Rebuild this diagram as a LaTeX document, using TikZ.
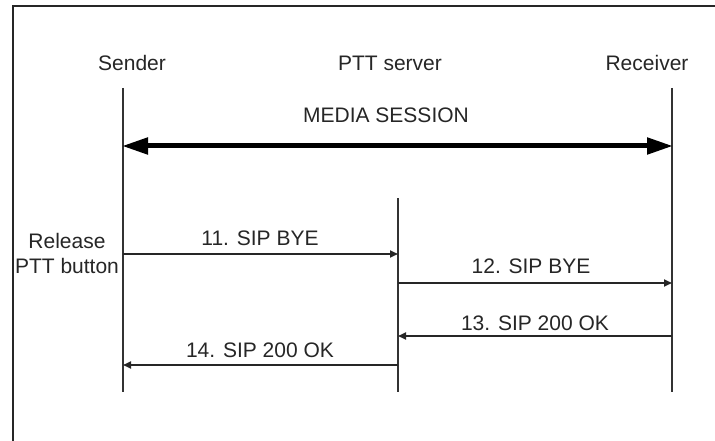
\documentclass[tikz,border=0pt]{standalone}
\usepackage{fontspec}
\setmainfont{Liberation Sans}
\usetikzlibrary{arrows.meta}

\tikzset{
  lbl/.style={inner sep=0pt, font=\fontsize{21}{25}\selectfont, text=black!85},
  life/.style={draw=black!80, line width=1.6pt},
  msg/.style={draw=black!85, line width=1.8pt, -{Triangle[length=8pt,width=7pt]}},
  media/.style={draw=black, line width=5pt, {Triangle[length=26pt,width=16pt]}-{Triangle[length=26pt,width=16pt]}, shorten <=-1pt, shorten >=-1pt}
}

\begin{document}
\begin{tikzpicture}[x=1pt,y=-1pt]
        \useasboundingbox (0,0) rectangle (715,441);
        % frame
        \draw[line width=2pt, black!85] (13,441) -- (13,6) -- (715,6);
        % participants
        \node[lbl] (S) at (132,63) {Sender};
        \node[lbl] (P) at (390,63) {PTT server};
        \node[lbl] (R) at (647,63) {Receiver};
        \coordinate (St) at (123,88);
        \coordinate (Sb) at (123,392);
        \coordinate (Pt) at (398,198);
        \coordinate (Pb) at (398,392);
        \coordinate (Rt) at (672,88);
        \coordinate (Rb) at (672,392);
        \draw[life] (St) -- (Sb);
        \draw[life] (Pt) -- (Pb);
        \draw[life] (Rt) -- (Rb);
        % media session
        \node[lbl] (M) at (386,115) {MEDIA SESSION};
        \coordinate (ms) at (123,146);
        \coordinate (mr) at (672,146);
        \draw[media] (ms) -- (mr);
        % release
        \node[lbl, align=center] (Rel) at (67,253) {Release\\PTT button};
        % messages
        \coordinate (s11) at (123,254);
        \coordinate (p11) at (398,254);
        \coordinate (p12) at (398,283);
        \coordinate (r12) at (672,283);
        \coordinate (r13) at (672,336);
        \coordinate (p13) at (398,336);
        \coordinate (p14) at (398,365);
        \coordinate (s14) at (123,365);
        \draw[msg] (s11) -- (p11);
        \draw[msg] (p12) -- (r12);
        \draw[msg] (r13) -- (p13);
        \draw[msg] (p14) -- (s14);
        \node[lbl] (L11) at (260,238) {11. SIP BYE};
        \node[lbl] (L12) at (531,266) {12. SIP BYE};
        \node[lbl] (L13) at (535,323) {13. SIP 200 OK};
        \node[lbl] (L14) at (260,350) {14. SIP 200 OK};
      \end{tikzpicture}
\end{document}
